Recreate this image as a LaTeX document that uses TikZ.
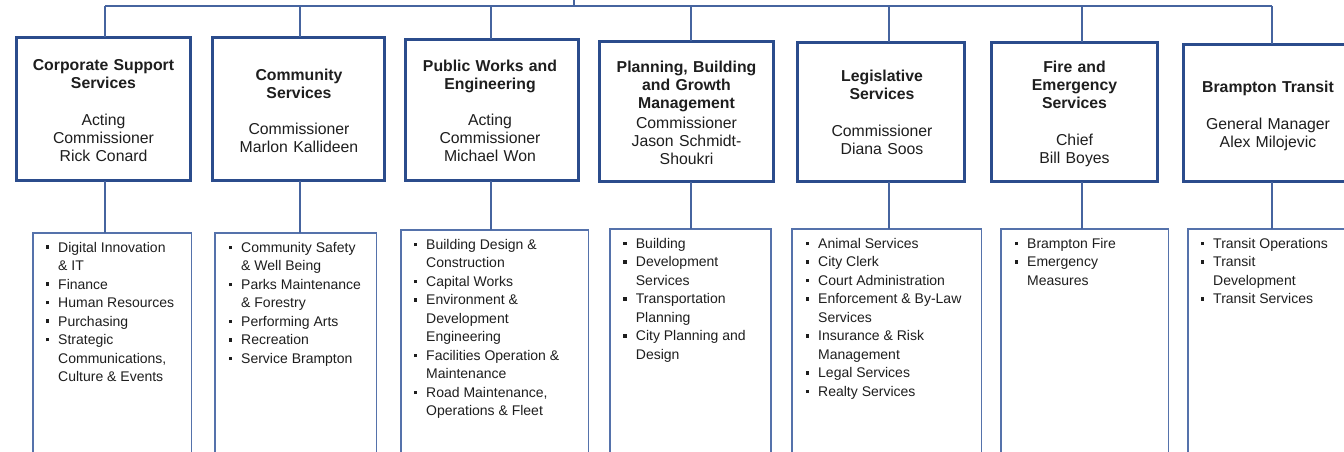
\documentclass[tikz,border=0pt]{standalone}
\usepackage{fontspec}
\setmainfont{Liberation Sans}
\definecolor{topblue}{HTML}{2B4C8C}
\definecolor{connblue}{HTML}{46649F}
\definecolor{subblue}{HTML}{5572AB}
\definecolor{textc}{HTML}{1E1E1E}
\newlength\bindent
\setlength\bindent{12.5pt}
\newcommand{\itm}[1]{\par\noindent\hangindent=\bindent\hangafter=1\makebox[\bindent][l]{\rule[3.2pt]{3.6pt}{3.6pt}}#1}
\newenvironment{blist}{\begin{minipage}[t]{200pt}\fontsize{14}{18.5}\selectfont\parindent=0pt\parskip=0pt}{\end{minipage}}
\begin{document}
\begin{tikzpicture}[x=1pt,y=-1pt,
  topbox/.style={draw=topblue, line width=3pt, inner sep=0pt, outer sep=0pt, fill=white},
  subbox/.style={draw=subblue, line width=1.5pt, inner sep=0pt, outer sep=0pt, fill=white},
  toptext/.style={anchor=north, align=center, text width=165pt, inner sep=0pt, font=\fontsize{15.8}{18}\selectfont, text=textc},
  subtext/.style={anchor=north west, inner sep=0pt, font=\fontsize{14}{18.5}\selectfont, text=textc},
  conn/.style={draw=connblue, line width=1.5pt}]
\useasboundingbox (0,0) rectangle (1344,452);
\clip (0,0) rectangle (1344,452);
\fill[white] (0,0) rectangle (1344,452);

% top boxes
\node[topbox, minimum width=174pt, minimum height=143pt] (t1) at (103.5,109) {};
\node[topbox, minimum width=172pt, minimum height=143pt] (t2) at (298.5,109) {};
\node[topbox, minimum width=173pt, minimum height=141pt] (t3) at (492,110) {};
\node[topbox, minimum width=174pt, minimum height=140pt] (t4) at (686.5,111.5) {};
\node[topbox, minimum width=167pt, minimum height=139pt] (t5) at (881,112) {};
\node[topbox, minimum width=166pt, minimum height=139pt] (t6) at (1074.5,112) {};
\node[topbox, minimum width=171pt, minimum height=137pt] (t7) at (1269,113) {};

% top texts
\node[toptext] (t1x) at (103.5,59.3) {\textbf{Corporate Support}\\\textbf{Services}\\[18.5pt]Acting\\Commissioner\\Rick Conard};
\node[toptext] (t2x) at (299,68.6) {\textbf{Community}\\\textbf{Services}\\[18.5pt]Commissioner\\Marlon Kallideen};
\node[toptext] (t3x) at (490,59.6) {\textbf{Public Works and}\\\textbf{Engineering}\\[18.5pt]Acting\\Commissioner\\Michael Won};
\node[toptext] (t4x) at (686.5,60.9) {\textbf{Planning, Building}\\\textbf{and Growth}\\\textbf{Management}\\[1.5pt]Commissioner\\Jason Schmidt-\\Shoukri};
\node[toptext] (t5x) at (882,70.3) {\textbf{Legislative}\\\textbf{Services}\\[18.5pt]Commissioner\\Diana Soos};
\node[toptext] (t6x) at (1074.5,60.9) {\textbf{Fire and}\\\textbf{Emergency}\\\textbf{Services}\\[18.5pt]Chief\\Bill Boyes};
\node[toptext] (t7x) at (1268,80.9) {\textbf{Brampton Transit}\\[18.5pt]General Manager\\Alex Milojevic};

% bottom boxes
\node[subbox, minimum width=158.5pt, minimum height=237.3pt] (b1) at (112,351.4) {};
\node[subbox, minimum width=161.5pt, minimum height=237.3pt] (b2) at (295.5,351.4) {};
\node[subbox, minimum width=187.5pt, minimum height=240.3pt] (b3) at (494.5,349.9) {};
\node[subbox, minimum width=161pt, minimum height=241.3pt] (b4) at (690.25,349.4) {};
\node[subbox, minimum width=189.5pt, minimum height=241.3pt] (b5) at (886.5,349.4) {};
\node[subbox, minimum width=167.5pt, minimum height=241.3pt] (b6) at (1084.5,349.4) {};
\node[subbox, minimum width=171.5pt, minimum height=241.3pt] (b7) at (1273.5,349.4) {};

% bullet texts
\node[subtext] (l1) at (45.5,241.8) {\begin{blist}\itm{Digital Innovation\newline\& IT}\itm{Finance}\itm{Human Resources}\itm{Purchasing}\itm{Strategic\newline Communications,\newline Culture \& Events}\end{blist}};
\node[subtext] (l2) at (228.5,242.1) {\begin{blist}\itm{Community Safety\newline\& Well Being}\itm{Parks Maintenance\newline\& Forestry}\itm{Performing Arts}\itm{Recreation}\itm{Service Brampton}\end{blist}};
\node[subtext] (l3) at (413.5,239.1) {\begin{blist}\itm{Building Design \&\newline Construction}\itm{Capital Works}\itm{Environment \&\newline Development\newline Engineering}\itm{Facilities Operation \&\newline Maintenance}\itm{Road Maintenance,\newline Operations \& Fleet}\end{blist}};
\node[subtext] (l4) at (623.2,238.1) {\begin{blist}\itm{Building}\itm{Development\newline Services}\itm{Transportation\newline Planning}\itm{City Planning and\newline Design}\end{blist}};
\node[subtext] (l5) at (805.5,238) {\begin{blist}\itm{Animal Services}\itm{City Clerk}\itm{Court Administration}\itm{Enforcement \& By-Law\newline Services}\itm{Insurance \& Risk\newline Management}\itm{Legal Services}\itm{Realty Services}\end{blist}};
\node[subtext] (l6) at (1014.5,238.1) {\begin{blist}\itm{Brampton Fire}\itm{Emergency\newline Measures}\end{blist}};
\node[subtext] (l7) at (1200.5,238.1) {\begin{blist}\itm{Transit Operations}\itm{Transit\newline Development}\itm{Transit Services}\end{blist}};

% connectors
\coordinate (root) at (574,-5);
\coordinate (hr) at (574,6);
\coordinate (h1) at (105,6);
\coordinate (h2) at (300,6);
\coordinate (h3) at (491,6);
\coordinate (h4) at (691,6);
\coordinate (h5) at (889,6);
\coordinate (h6) at (1082,6);
\coordinate (h7) at (1272,6);
\draw[conn] (h1) -- (h7);
\draw[conn] (root) -- (hr);
\foreach \i in {1,...,7} {
  \draw[conn] (h\i) -- (h\i |- t\i.north);
  \draw[conn] (h\i |- t\i.south) -- (h\i |- b\i.north);
}
\end{tikzpicture}
\end{document}
